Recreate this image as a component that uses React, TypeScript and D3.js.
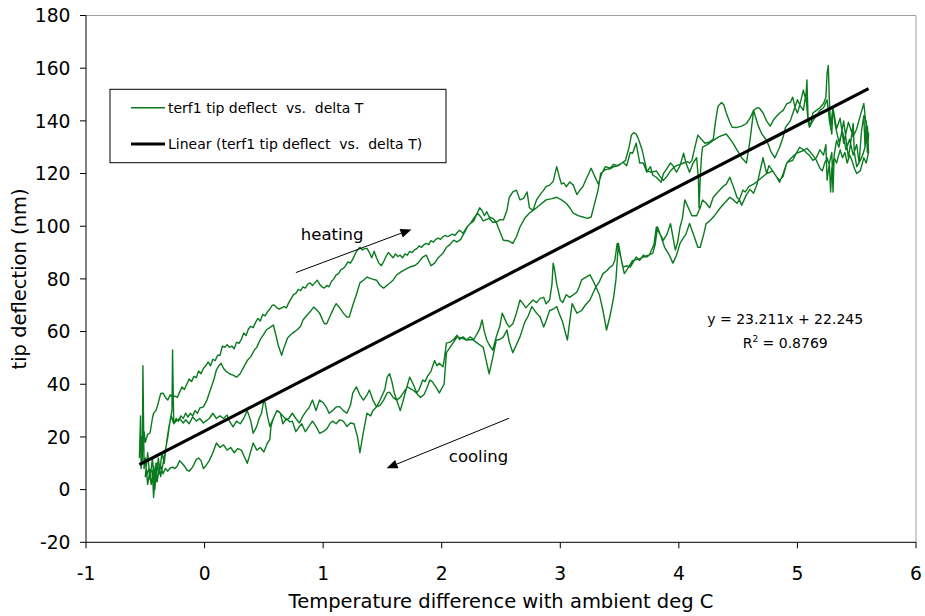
import React from "react";
import * as d3 from "d3";

// ---------- data ----------
const heatingA: [number, number][] = [
  [-0.55, 12], [-0.54, 28], [-0.535, 8], [-0.53, 20], [-0.52, 15], [-0.51, 22], [-0.5, 18], [-0.48, 21],
  [-0.46, 21.5], [-0.44, 27], [-0.43, 29], [-0.41, 30], [-0.39, 33], [-0.37, 36.5], [-0.35, 36.6], [-0.33, 35],
  [-0.31, 34], [-0.29, 36], [-0.27, 35], [-0.25, 35.5], [-0.23, 35], [-0.21, 37], [-0.19, 39], [-0.17, 38],
  [-0.15, 40], [-0.13, 42], [-0.11, 41], [-0.09, 43], [-0.07, 42.5], [-0.05, 45], [-0.03, 44], [-0.01, 46],
  [0.01, 47], [0.03, 48.5], [0.05, 47], [0.07, 49.5], [0.09, 49], [0.11, 51], [0.13, 51], [0.15, 54.5],
  [0.17, 54], [0.19, 55], [0.21, 54], [0.23, 54.5], [0.25, 53.5], [0.27, 56], [0.29, 55.5], [0.31, 57],
  [0.33, 59.5], [0.35, 58.5], [0.37, 61], [0.39, 62], [0.41, 61.5], [0.43, 63.5], [0.45, 65], [0.47, 64],
  [0.49, 66.5], [0.51, 66], [0.53, 67.5], [0.55, 68.5], [0.57, 70], [0.59, 70], [0.61, 69], [0.63, 68.5],
  [0.65, 69], [0.67, 69.5], [0.69, 69], [0.71, 71], [0.73, 72.5], [0.75, 74], [0.77, 74.5], [0.79, 76],
  [0.81, 75.5], [0.83, 77], [0.85, 76.5], [0.87, 78], [0.89, 78.5], [0.91, 77.5], [0.93, 78.5], [0.95, 79.5],
  [0.97, 78], [0.99, 77], [1.01, 76.5], [1.03, 77.5], [1.05, 77], [1.07, 79], [1.09, 80], [1.11, 81.5],
  [1.13, 82], [1.15, 83.5], [1.17, 84], [1.19, 85], [1.21, 86.5], [1.23, 86], [1.25, 87.5], [1.27, 89.5],
  [1.29, 91], [1.31, 92], [1.33, 91], [1.35, 91.5], [1.37, 91.6], [1.39, 90], [1.41, 88], [1.43, 90.5],
  [1.45, 88], [1.47, 86], [1.49, 85], [1.51, 86.5], [1.53, 88.5], [1.55, 90], [1.57, 89], [1.59, 88],
  [1.61, 89.5], [1.63, 88.5], [1.65, 89], [1.67, 88], [1.69, 89.5], [1.71, 89], [1.73, 90.5], [1.75, 90],
  [1.77, 91], [1.79, 91.5], [1.81, 92.5], [1.83, 92], [1.85, 93], [1.87, 93.5], [1.89, 93], [1.91, 94.5],
  [1.93, 94], [1.95, 95], [1.97, 95.5], [1.99, 95], [2.01, 96], [2.03, 96.5], [2.05, 96], [2.07, 96.5],
  [2.09, 97], [2.11, 96.5], [2.13, 97.5], [2.15, 98.5], [2.18, 97.3], [2.21, 99.5], [2.24, 101], [2.27, 102],
  [2.3, 105], [2.32, 107], [2.34, 106], [2.36, 104], [2.38, 105.5], [2.4, 103.5], [2.43, 103], [2.46, 101.5],
  [2.49, 102.5], [2.52, 102.4], [2.55, 106], [2.57, 111], [2.6, 113], [2.63, 113.7], [2.66, 110], [2.69, 110.6],
  [2.72, 113], [2.74, 107], [2.77, 106], [2.8, 110], [2.83, 112], [2.86, 113.7], [2.88, 115], [2.91, 115.6],
  [2.94, 117], [2.97, 122.6], [2.99, 119], [3.01, 116], [3.03, 116.5], [3.05, 115], [3.08, 116.8], [3.11, 115.6],
  [3.14, 112], [3.17, 114], [3.19, 115], [3.22, 118], [3.26, 122], [3.29, 119], [3.32, 116], [3.35, 120],
  [3.38, 122.6], [3.42, 122], [3.45, 123.5], [3.48, 123], [3.52, 124], [3.55, 125], [3.58, 130], [3.6, 134.6],
  [3.62, 135.5], [3.64, 135], [3.66, 133], [3.69, 129], [3.71, 125], [3.73, 121], [3.77, 120.5], [3.81, 121],
  [3.84, 119], [3.87, 117.4], [3.9, 119], [3.93, 121], [3.95, 122], [3.98, 123], [4.01, 123.5], [4.04, 124],
  [4.07, 124.5], [4.09, 124], [4.11, 125], [4.13, 129], [4.16, 134.6], [4.19, 133], [4.22, 131.5], [4.26, 132],
  [4.29, 133], [4.31, 140], [4.33, 145.5], [4.36, 147], [4.38, 146], [4.4, 143], [4.43, 139.5], [4.45, 137.6],
  [4.49, 137.5], [4.53, 138], [4.57, 139], [4.6, 141], [4.63, 144], [4.66, 145], [4.68, 144.8], [4.71, 143],
  [4.74, 140], [4.77, 138], [4.8, 140.5], [4.83, 142], [4.85, 143], [4.88, 144], [4.91, 146.5], [4.94, 147],
  [4.96, 149], [4.98, 145], [5.0, 143], [5.02, 146], [5.05, 151.7], [5.07, 148], [5.08, 155.5], [5.09, 141],
  [5.11, 138], [5.13, 143], [5.16, 144], [5.19, 145], [5.22, 146.6], [5.24, 149], [5.25, 158], [5.26, 161],
  [5.27, 147], [5.28, 138], [5.3, 145], [5.33, 137], [5.36, 141], [5.39, 131.5], [5.43, 139.5], [5.47, 134],
  [5.5, 137], [5.53, 142], [5.56, 146.6], [5.58, 138], [5.6, 135],
];

const coolingA: [number, number][] = [
  [5.59, 128], [5.58, 140], [5.57, 130], [5.55, 127], [5.53, 125], [5.5, 122.6], [5.48, 128], [5.47, 139],
  [5.45, 132], [5.43, 126], [5.41, 133], [5.39, 140], [5.37, 135], [5.35, 130], [5.33, 132.6], [5.31, 127],
  [5.3, 113], [5.29, 128], [5.27, 124], [5.25, 117.5], [5.24, 131], [5.22, 127], [5.19, 129], [5.16, 126],
  [5.13, 125], [5.1, 127], [5.08, 127.7], [5.05, 129], [5.02, 130], [4.99, 127.7], [4.96, 125], [4.93, 124.5],
  [4.91, 124], [4.88, 119], [4.85, 117.4], [4.82, 119], [4.79, 121], [4.76, 123], [4.74, 120], [4.71, 126],
  [4.69, 122], [4.66, 116], [4.63, 112.5], [4.6, 114], [4.57, 112], [4.53, 108], [4.51, 110], [4.49, 111],
  [4.46, 115], [4.43, 118.6], [4.4, 116], [4.37, 115], [4.33, 113], [4.29, 111], [4.26, 107], [4.23, 108.7],
  [4.2, 110], [4.18, 107], [4.15, 104], [4.11, 104], [4.08, 107], [4.05, 110], [4.03, 103], [4.01, 99.7],
  [3.99, 94], [3.97, 91], [3.95, 96], [3.93, 101], [3.9, 97], [3.87, 94.7], [3.84, 97], [3.81, 99.7],
  [3.79, 93], [3.78, 92], [3.75, 89], [3.73, 88.3], [3.7, 89], [3.67, 87], [3.64, 88.3], [3.61, 86],
  [3.59, 84.5], [3.56, 85], [3.53, 84.5], [3.5, 90], [3.48, 93.5], [3.46, 87], [3.44, 85], [3.42, 84.5],
  [3.39, 83], [3.36, 82], [3.33, 79], [3.3, 77], [3.28, 79], [3.25, 81.5], [3.21, 80.5], [3.18, 79.6],
  [3.16, 77], [3.14, 75], [3.11, 74], [3.08, 73], [3.05, 74], [3.02, 71], [3.0, 72], [2.97, 78],
  [2.95, 84], [2.94, 86], [2.93, 78], [2.91, 72], [2.88, 70.6], [2.86, 73], [2.83, 72.6], [2.8, 71],
  [2.77, 72], [2.74, 70.6], [2.71, 69], [2.68, 71], [2.66, 72], [2.63, 67], [2.6, 63], [2.57, 61.7],
  [2.55, 63], [2.53, 65], [2.51, 67], [2.49, 62], [2.46, 58], [2.43, 53], [2.4, 55], [2.38, 56.8],
  [2.36, 60], [2.34, 64.4], [2.32, 61], [2.3, 59.3], [2.27, 57], [2.24, 58], [2.21, 56.8], [2.18, 58],
  [2.15, 57], [2.13, 58.6], [2.1, 57], [2.07, 56], [2.04, 55.6], [2.02, 49], [2.01, 46.6], [1.98, 48],
  [1.96, 47], [1.94, 49], [1.91, 45], [1.88, 43], [1.86, 41], [1.84, 41.6], [1.81, 38], [1.79, 36.7],
  [1.76, 40], [1.73, 42.7], [1.7, 38], [1.67, 33], [1.65, 30], [1.62, 34], [1.6, 36.7], [1.58, 41],
  [1.56, 44], [1.54, 42.7], [1.52, 38], [1.49, 35], [1.47, 33], [1.45, 31.4], [1.42, 34], [1.39, 37.8],
  [1.37, 36], [1.34, 34], [1.31, 36], [1.28, 39], [1.25, 36.7], [1.23, 32], [1.2, 29], [1.17, 30],
  [1.14, 31.5], [1.11, 31.4], [1.08, 30], [1.05, 29], [1.03, 31], [1.0, 33], [0.97, 34], [0.94, 30],
  [0.91, 34], [0.88, 31], [0.86, 30], [0.83, 28], [0.8, 25.3], [0.77, 27], [0.74, 29], [0.71, 27],
  [0.69, 26.5], [0.66, 28], [0.63, 29.5], [0.61, 30], [0.59, 28], [0.57, 26], [0.55, 24], [0.53, 28],
  [0.51, 33], [0.5, 34], [0.48, 29], [0.46, 27], [0.44, 24], [0.41, 21.4], [0.39, 26], [0.36, 30],
  [0.33, 27], [0.3, 25], [0.27, 26], [0.24, 23.8], [0.21, 26], [0.19, 28.3], [0.16, 27], [0.13, 28],
  [0.1, 27], [0.07, 29], [0.04, 27], [0.01, 26], [-0.01, 25.3], [-0.04, 27], [-0.07, 26], [-0.1, 27.6],
  [-0.13, 25], [-0.16, 26.5], [-0.18, 25.3], [-0.21, 27], [-0.24, 26], [-0.26, 25], [-0.27, 53], [-0.275, 30],
  [-0.29, 26.5], [-0.31, 20], [-0.33, 15], [-0.35, 10], [-0.37, 5], [-0.39, 12], [-0.41, 3], [-0.43, 9],
  [-0.45, 2], [-0.47, 8], [-0.49, 5],
];

const heatingB: [number, number][] = [
  [-0.5, 5], [-0.48, 14], [-0.46, 4], [-0.44, 12], [-0.42, 0], [-0.4, 10], [-0.38, 6], [-0.36, 14],
  [-0.34, 10], [-0.32, 18], [-0.3, 24], [-0.28, 28], [-0.26, 25], [-0.24, 27], [-0.22, 26], [-0.2, 28],
  [-0.18, 27], [-0.16, 29], [-0.14, 27.5], [-0.12, 29], [-0.1, 28], [-0.08, 30], [-0.06, 29], [-0.04, 31],
  [-0.01, 31.4], [0.02, 34], [0.05, 38], [0.08, 42], [0.1, 45.5], [0.12, 47], [0.14, 48], [0.16, 46],
  [0.18, 45], [0.21, 44], [0.24, 43.5], [0.27, 42.7], [0.3, 44], [0.33, 46.5], [0.36, 49], [0.39, 50.5],
  [0.42, 53], [0.44, 54], [0.47, 57], [0.5, 59], [0.52, 60.6], [0.55, 61.5], [0.58, 62.5], [0.6, 59],
  [0.62, 55], [0.65, 51], [0.67, 54], [0.7, 57.6], [0.73, 59], [0.76, 60], [0.78, 60.6], [0.81, 62],
  [0.83, 64.4], [0.86, 66], [0.89, 67.5], [0.92, 69.3], [0.95, 68], [0.97, 67], [0.99, 65], [1.01, 63],
  [1.03, 63], [1.06, 66], [1.09, 69], [1.11, 70.6], [1.14, 69], [1.17, 67], [1.2, 65.5], [1.22, 65.5],
  [1.25, 70], [1.28, 74], [1.31, 78.5], [1.34, 79.5], [1.37, 80.7], [1.41, 80], [1.45, 79.5], [1.48, 77.5],
  [1.51, 76.5], [1.55, 78], [1.59, 79.5], [1.62, 81.5], [1.65, 82.5], [1.69, 83.5], [1.73, 84.5], [1.77, 85],
  [1.8, 86], [1.84, 88.3], [1.87, 89], [1.91, 85], [1.94, 86], [1.97, 88], [2.01, 89.7], [2.04, 92],
  [2.07, 93], [2.1, 94.7], [2.13, 94], [2.16, 95], [2.19, 97.5], [2.22, 100], [2.24, 101], [2.27, 103],
  [2.3, 105], [2.33, 103.5], [2.35, 102], [2.4, 103], [2.43, 101.5], [2.46, 101.5], [2.49, 98], [2.52, 94.7],
  [2.56, 94.5], [2.6, 93.5], [2.63, 96], [2.66, 99.7], [2.7, 103], [2.74, 105], [2.77, 106], [2.8, 107],
  [2.84, 108.5], [2.88, 110], [2.93, 110.5], [2.97, 111], [3.01, 110], [3.05, 108.7], [3.08, 107], [3.11, 105],
  [3.15, 104], [3.19, 103.5], [3.23, 103], [3.26, 103.5], [3.29, 108.7], [3.32, 114], [3.34, 120], [3.38, 121.5],
  [3.42, 121.8], [3.45, 122.6], [3.49, 123], [3.53, 124.3], [3.56, 123], [3.59, 128], [3.61, 127.7], [3.64, 131.5],
  [3.67, 124], [3.7, 124], [3.73, 120.5], [3.76, 122.6], [3.78, 119.4], [3.81, 118.6], [3.85, 116.7], [3.87, 120],
  [3.9, 122], [3.93, 124], [3.95, 123], [3.98, 120.5], [4.01, 123], [4.04, 127.7], [4.06, 124], [4.09, 120.5],
  [4.12, 124], [4.15, 126], [4.165, 118], [4.17, 107], [4.18, 118], [4.19, 126], [4.2, 130], [4.24, 131],
  [4.29, 132.6], [4.34, 134], [4.4, 135], [4.45, 132], [4.49, 129], [4.53, 126], [4.57, 124], [4.6, 132.6],
  [4.62, 140], [4.63, 144], [4.65, 141], [4.67, 138], [4.7, 135], [4.74, 132.6], [4.78, 128], [4.81, 126],
  [4.85, 130], [4.88, 134], [4.9, 137.6], [4.94, 140], [4.97, 144], [5.0, 148], [5.02, 146], [5.05, 144],
  [5.07, 150], [5.09, 140], [5.1, 137.6], [5.13, 140], [5.16, 142], [5.19, 144], [5.22, 145], [5.25, 148],
  [5.27, 140], [5.29, 135], [5.3, 145], [5.32, 138], [5.35, 132], [5.38, 136], [5.41, 129], [5.44, 133],
  [5.47, 127], [5.5, 131], [5.52, 124], [5.54, 136], [5.56, 142], [5.57, 130], [5.59, 138], [5.6, 128],
];

const coolingB: [number, number][] = [
  [5.58, 124], [5.56, 126], [5.53, 121], [5.5, 120], [5.48, 122], [5.46, 125], [5.44, 127], [5.42, 124],
  [5.4, 128], [5.38, 126], [5.36, 129], [5.33, 124], [5.31, 126], [5.29, 122], [5.28, 113], [5.27, 123],
  [5.25, 126], [5.23, 124], [5.21, 121], [5.19, 122], [5.17, 124], [5.16, 125], [5.13, 127], [5.08, 129.6],
  [5.04, 128.5], [4.99, 127.7], [4.95, 126], [4.91, 124], [4.88, 120], [4.85, 116.7], [4.82, 119], [4.79, 121],
  [4.77, 120.5], [4.74, 120], [4.7, 118.5], [4.66, 117], [4.63, 116], [4.59, 115], [4.56, 113], [4.54, 113.7],
  [4.51, 110], [4.49, 108.7], [4.46, 110], [4.43, 111], [4.39, 109], [4.35, 107], [4.3, 104], [4.26, 102],
  [4.23, 101], [4.21, 97], [4.18, 92], [4.16, 92], [4.13, 96], [4.09, 101], [4.06, 97], [4.03, 95],
  [4.01, 93.5], [3.98, 89], [3.95, 86], [3.92, 89], [3.88, 92], [3.85, 96], [3.82, 99.7], [3.8, 93],
  [3.78, 89.7], [3.74, 89], [3.7, 88.3], [3.66, 87.5], [3.61, 87], [3.57, 84], [3.54, 82], [3.52, 86],
  [3.49, 93.5], [3.47, 80], [3.45, 73], [3.42, 66], [3.39, 60.6], [3.36, 68], [3.33, 74], [3.3, 77],
  [3.27, 74], [3.25, 72], [3.21, 70], [3.18, 68], [3.14, 67], [3.1, 70.6], [3.08, 64], [3.06, 56.8],
  [3.04, 60], [3.02, 63.6], [2.99, 67], [2.97, 69.5], [2.94, 68.5], [2.91, 68], [2.88, 64], [2.86, 61.7],
  [2.83, 65.5], [2.8, 67], [2.76, 69.5], [2.73, 66], [2.7, 63.5], [2.66, 58], [2.63, 55], [2.6, 52],
  [2.57, 56], [2.55, 60.6], [2.52, 58], [2.49, 57], [2.46, 56.8], [2.43, 50], [2.4, 44], [2.37, 50],
  [2.35, 54], [2.32, 55], [2.3, 55.6], [2.26, 57], [2.21, 56.8], [2.17, 57.5], [2.13, 58], [2.1, 56],
  [2.07, 54], [2.04, 52], [2.02, 40], [1.98, 36.7], [1.95, 39], [1.92, 41], [1.9, 41.6], [1.87, 38],
  [1.85, 36], [1.82, 35], [1.78, 37], [1.75, 38], [1.71, 39], [1.68, 37], [1.65, 35], [1.62, 34],
  [1.59, 35], [1.56, 37], [1.54, 36.7], [1.51, 34], [1.48, 32], [1.45, 31.4], [1.42, 30], [1.4, 28],
  [1.37, 29], [1.34, 22], [1.31, 14], [1.29, 20], [1.26, 25], [1.23, 25.3], [1.2, 24], [1.17, 26],
  [1.14, 26.5], [1.11, 25], [1.08, 26], [1.06, 25.3], [1.03, 23], [1.0, 22], [0.97, 21.4], [0.94, 24],
  [0.91, 26], [0.88, 24], [0.85, 22], [0.82, 25], [0.8, 24], [0.77, 22], [0.74, 26], [0.72, 25.7],
  [0.69, 27], [0.66, 25], [0.64, 29], [0.61, 30], [0.58, 27], [0.56, 24], [0.55, 19], [0.53, 17.7],
  [0.5, 14.3], [0.47, 16], [0.44, 15], [0.41, 17.7], [0.38, 13], [0.36, 10], [0.34, 12], [0.31, 15],
  [0.28, 15.6], [0.25, 14], [0.22, 16], [0.19, 15], [0.16, 17], [0.13, 16], [0.1, 17.7], [0.07, 14],
  [0.04, 11], [0.01, 9], [-0.01, 8], [-0.03, 11], [-0.05, 12], [-0.07, 11.5], [-0.09, 9.5], [-0.11, 8],
  [-0.13, 7], [-0.15, 7.5], [-0.17, 9], [-0.19, 10], [-0.21, 11], [-0.23, 9], [-0.25, 8], [-0.27, 8.5],
  [-0.29, 8.2], [-0.31, 7], [-0.33, 8], [-0.35, 6], [-0.37, 9], [-0.38, 8.6], [-0.4, 3], [-0.41, 10],
  [-0.43, -3], [-0.44, 7], [-0.46, 7.5], [-0.48, 2], [-0.5, 12], [-0.51, 8], [-0.52, 47], [-0.525, 10],
  [-0.54, 10],
];

const xTicks = [-1, 0, 1, 2, 3, 4, 5, 6];
const yTicks = [-20, 0, 20, 40, 60, 80, 100, 120, 140, 160, 180];
const trendSlope = 23.211;
const trendIntercept = 22.245;
const trendRange = [-0.55, 5.6];
const seriesName = "terf1 tip deflect  vs.  delta T";
const trendName = "Linear (terf1 tip deflect  vs.  delta T)";
const equationText = "y = 23.211x + 22.245";
const r2Value = "0.8769";
const xTitle = "Temperature difference with ambient deg C";
const yTitle = "tip deflection (nm)";

// annotation anchors in data units
const heatArrow = { from: [0.77, 82.4], to: [1.745, 98.8] };
const coolArrow = { from: [2.568, 27.1], to: [1.535, 8.1] };
const heatLabel = { at: [0.812, 94.7], text: "heating" };
const coolLabel = { at: [2.06, 10.6], text: "cooling" };
const eqAnchor = [4.897, 62.7];
const r2Anchor = [4.897, 53.8];

const W = 925;
const H = 616;
const M = { left: 86, right: 916, top: 15.5, bottom: 542.3 };
const FONT = "'DejaVu Sans', Verdana, sans-serif";
const GREEN = "#0a7a1e";

export default function App() {
  const x = d3.scaleLinear().domain([-1, 6]).range([M.left, M.right]);
  const y = d3.scaleLinear().domain([-20, 180]).range([M.bottom, M.top]);
  const line = d3
    .line<[number, number]>()
    .x((d) => x(d[0]))
    .y((d) => y(d[1]));
  const allData = [...heatingA, ...coolingA, ...heatingB, ...coolingB];
  const trendData: [number, number][] = trendRange.map((v) => [v, trendSlope * v + trendIntercept]);

  const arrow = (a: { from: number[]; to: number[] }, key: string) => {
    const x1 = x(a.from[0]);
    const y1 = y(a.from[1]);
    const x2 = x(a.to[0]);
    const y2 = y(a.to[1]);
    const ang = Math.atan2(y2 - y1, x2 - x1);
    const len = 11;
    const half = 4.5;
    const bx = x2 - len * Math.cos(ang);
    const by = y2 - len * Math.sin(ang);
    const px = -Math.sin(ang) * half;
    const py = Math.cos(ang) * half;
    return (
      <g key={key}>
        <line x1={x1} y1={y1} x2={bx} y2={by} stroke="#000" strokeWidth={1} />
        <polygon points={`${x2},${y2} ${bx + px},${by + py} ${bx - px},${by - py}`} fill="#000" />
      </g>
    );
  };

  return (
    <svg
      width={W}
      height={H}
      style={{ position: "absolute", left: 0, top: 0, background: "#fff" }}
      fontFamily={FONT}
    >
      <rect x={0} y={0} width={W} height={H} fill="#fff" />
      {/* plot frame */}
      <line x1={M.left} y1={M.top} x2={M.right} y2={M.top} stroke="#a0a0a0" strokeWidth={1} />
      <line x1={M.right} y1={M.top} x2={M.right} y2={M.bottom} stroke="#a0a0a0" strokeWidth={1} />

      {/* data */}
      <path d={line(allData) || ""} fill="none" stroke={GREEN} strokeWidth={1.4} strokeLinejoin="round" />
      <path d={line(trendData) || ""} fill="none" stroke="#000" strokeWidth={3.2} />

      {/* axes */}
      <line x1={M.left} y1={M.top} x2={M.left} y2={M.bottom} stroke="#000" strokeWidth={1} />
      <line x1={M.left} y1={M.bottom} x2={M.right} y2={M.bottom} stroke="#000" strokeWidth={1} />
      {yTicks.map((t) => (
        <g key={"y" + t}>
          <line x1={M.left - 6} x2={M.left} y1={y(t)} y2={y(t)} stroke="#000" />
          <text x={70.5} y={y(t)} dy="0.36em" textAnchor="end" fontSize={18.7} fill="#000">
            {t}
          </text>
        </g>
      ))}
      {xTicks.map((t) => (
        <g key={"x" + t}>
          <line x1={x(t)} x2={x(t)} y1={M.bottom} y2={M.bottom + 6} stroke="#000" />
          <text x={x(t)} y={580} textAnchor="middle" fontSize={18.7} fill="#000">
            {t}
          </text>
        </g>
      ))}
      <text x={(M.left + M.right) / 2} y={608} textAnchor="middle" fontSize={19.5} fill="#000">
        {xTitle}
      </text>
      <text
        transform={`translate(26, ${(M.top + M.bottom) / 2}) rotate(-90)`}
        textAnchor="middle"
        fontSize={19.5}
        fill="#000"
      >
        {yTitle}
      </text>

      {/* legend */}
      <rect x={110} y={89.3} width={336} height={73.4} fill="#fff" stroke="#000" strokeWidth={1} />
      <line x1={131} x2={165} y1={107.7} y2={107.7} stroke={GREEN} strokeWidth={1.4} />
      <text x={168} y={107.7} dy="0.36em" fontSize={14} style={{ whiteSpace: "pre" }}>
        {seriesName}
      </text>
      <line x1={131} x2={165} y1={144} y2={144} stroke="#000" strokeWidth={3.2} />
      <text x={168} y={144} dy="0.36em" fontSize={14} style={{ whiteSpace: "pre" }}>
        {trendName}
      </text>

      {/* annotations */}
      {arrow(heatArrow, "ha")}
      {arrow(coolArrow, "ca")}
      <text x={x(heatLabel.at[0])} y={y(heatLabel.at[1])} fontSize={16.5}>
        {heatLabel.text}
      </text>
      <text x={x(coolLabel.at[0])} y={y(coolLabel.at[1])} fontSize={16.5}>
        {coolLabel.text}
      </text>
      <text x={x(eqAnchor[0])} y={y(eqAnchor[1])} textAnchor="middle" fontSize={14}>
        {equationText}
      </text>
      <text x={x(r2Anchor[0])} y={y(r2Anchor[1])} textAnchor="middle" fontSize={14}>
        R<tspan dy={-6} fontSize={9}>2</tspan>
        <tspan dy={6}>{" = " + r2Value}</tspan>
      </text>
    </svg>
  );
}
